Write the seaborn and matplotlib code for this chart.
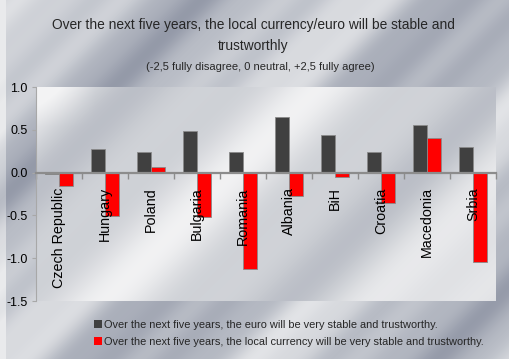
import numpy as np
import pandas as pd
import matplotlib
matplotlib.use("Agg")
import matplotlib.pyplot as plt
from matplotlib.colors import LinearSegmentedColormap
from matplotlib.patches import Patch
import seaborn as sns

# Survey results: mean agreement on a -2.5 .. +2.5 scale
countries = ["Czech Republic", "Hungary", "Poland", "Bulgaria", "Romania",
             "Albania", "BiH", "Croatia", "Macedonia", "Srbia"]
euro_stable = [-0.02, 0.28, 0.24, 0.49, 0.24, 0.65, 0.44, 0.24, 0.56, 0.30]
local_stable = [-0.16, -0.51, 0.06, -0.52, -1.13, -0.27, -0.05, -0.35, 0.41, -1.04]
series_names = ["Over the next five years, the euro will be very stable and trustworthy.",
                "Over the next five years, the local currency will be very stable and trustworthy."]
y_ticks = [-1.5, -1.0, -0.5, 0.0, 0.5, 1.0]

df = pd.DataFrame({
    "country": countries * 2,
    "value": euro_stable + local_stable,
    "series": [series_names[0]] * len(countries) + [series_names[1]] * len(countries),
})

sns.set_theme(style="white")
plt.rcParams["font.family"] = ["Liberation Sans", "DejaVu Sans"]

W, H = 509, 359
fig = plt.figure(figsize=(W / 100, H / 100), dpi=100)

# brushed-metal backdrop for the whole figure
yy, xx = np.mgrid[0:H, 0:W]
s = (xx + yy) / 60.0
tex = 0.55 + 0.25 * np.sin(s * 1.3 + 0.4) + 0.12 * np.sin(s * 3.1 + 1.0) + 0.05 * np.sin(s * 7.0)
tex[:, :6] = np.clip(tex[:, :6] + 0.35, 0, 1)
metal = LinearSegmentedColormap.from_list("metal", ["#878d9e", "#b9bdc6", "#e9eaec"])
bg = fig.add_axes([0, 0, 1, 1], zorder=-10)
bg.imshow(np.clip(tex, 0, 1), cmap=metal, aspect="auto", vmin=0, vmax=1)
bg.set_axis_off()

# plot-area panel, lighter metal
pos = [36 / W, 1 - 301 / H, (496 - 36) / W, (301 - 87) / H]
pw, ph = 460, 214
py, px = np.mgrid[0:ph, 0:pw]
ps = (px + py) / 55.0
ptex = 0.66 + 0.22 * np.sin(ps * 1.1 + 2.2) + 0.1 * np.sin(ps * 2.7 + 0.3)
ptex[:40, :60] += np.linspace(0.25, 0, 60)[None, :] * np.linspace(1, 0, 40)[:, None]
panel_cmap = LinearSegmentedColormap.from_list("panel", ["#959aa9", "#c8cbd1", "#f3f3f4"])
pbg = fig.add_axes(pos, zorder=-5)
pbg.imshow(np.clip(ptex, 0, 1), cmap=panel_cmap, aspect="auto", vmin=0, vmax=1)
pbg.set_axis_off()

ax = fig.add_axes(pos)
ax.patch.set_alpha(0)
sns.barplot(data=df, x="country", y="value", hue="series", order=countries,
            hue_order=series_names, palette=["#404040", "#ff0000"], width=0.6,
            edgecolor="#8a8a8a", linewidth=0.6, saturation=1, ax=ax, legend=False)

ax.set_xlim(-0.5, len(countries) - 0.5)
ax.set_ylim(-1.5, 1.0)
ax.set_yticks(y_ticks)
ax.set_yticklabels([f"{v:.1f}" for v in y_ticks], fontsize=9, color="black")
ax.set_xlabel("")
ax.set_ylabel("")

# category axis sits on zero, with tick marks between the groups
for side in ["top", "right"]:
    ax.spines[side].set_visible(False)
ax.spines["left"].set_color("#a8a8a8")
ax.spines["left"].set_linewidth(0.8)
ax.spines["bottom"].set_position(("data", 0))
ax.spines["bottom"].set_color("#8c8c8c")
ax.spines["bottom"].set_linewidth(1.6)
ax.set_xticks(np.arange(-0.5, len(countries), 1.0))
ax.set_xticklabels([])
ax.tick_params(axis="x", direction="out", length=4, width=1, color="#8c8c8c", bottom=True)
ax.tick_params(axis="y", direction="out", length=3, width=0.8, color="#a8a8a8", left=True, pad=3)

for i, name in enumerate(countries):
    ax.text(i, -0.17, name, rotation=90, ha="center", va="top", fontsize=10.3,
            color="black", zorder=5)

fig.text(253 / W, 1 - 25 / H, "Over the next five years, the local currency/euro will be stable and",
         ha="center", va="center", fontsize=9.9)
fig.text(253 / W, 1 - 46 / H, "trustworthly", ha="center", va="center", fontsize=9.9)
fig.text(260 / W, 1 - 67 / H, "(-2,5 fully disagree, 0 neutral, +2,5 fully agree)",
         ha="center", va="center", fontsize=8)

handles = [Patch(facecolor="#404040", edgecolor="none"), Patch(facecolor="#ff0000", edgecolor="none")]
fig.legend(handles, series_names, loc="upper left", bbox_to_anchor=(94 / W, 1 - 320 / H),
           frameon=False, fontsize=7.9, handlelength=0.7, handleheight=0.7,
           handletextpad=0.25, labelspacing=0.6, borderpad=0, borderaxespad=0)

fig.savefig("out.png", dpi=100)
